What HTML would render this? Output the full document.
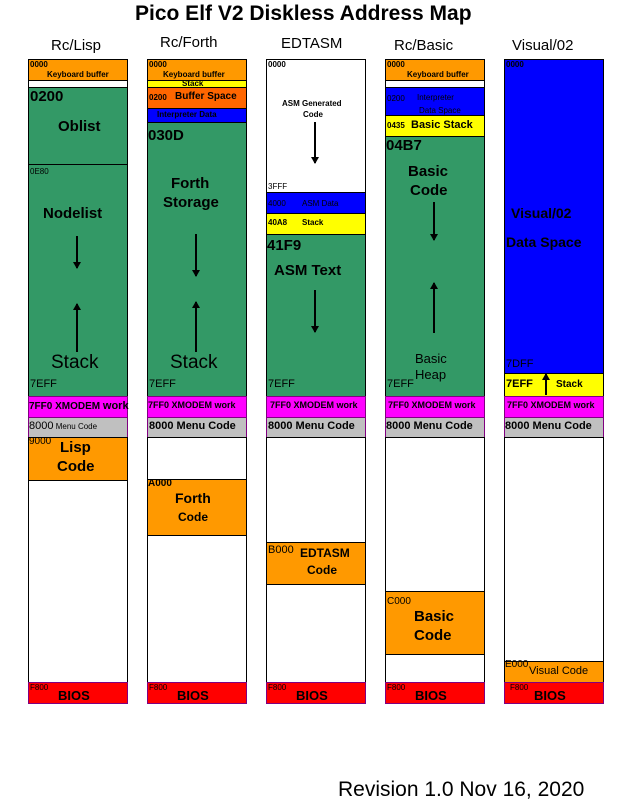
<!DOCTYPE html>
<html><head><meta charset="utf-8"><style>
body{margin:0;width:627px;height:807px;background:#fff;position:relative;overflow:hidden;font-family:"Liberation Sans",Arial,sans-serif}
.b{position:absolute;box-sizing:border-box;border:1px solid #000}
.p{border-color:#800080}
.t{position:absolute;white-space:nowrap;color:#000;line-height:1}
.s{font-size:8px}
.bo{font-weight:bold}
.ar{position:absolute;width:2px;background:#000}
.dn:after{content:"";position:absolute;left:-3px;bottom:-1px;border-left:4px solid transparent;border-right:4px solid transparent;border-top:7px solid #000}
.up:after{content:"";position:absolute;left:-3px;top:-1px;border-left:4px solid transparent;border-right:4px solid transparent;border-bottom:7px solid #000}
</style></head><body>
<div class="t bo" style="left:135px;top:3px;font-size:21px">Pico Elf V2 Diskless Address Map</div>
<div class="t" style="left:51px;top:38px;font-size:15px">Rc/Lisp</div>
<div class="t" style="left:160px;top:35px;font-size:15px">Rc/Forth</div>
<div class="t" style="left:281px;top:36px;font-size:15px">EDTASM</div>
<div class="t" style="left:394px;top:38px;font-size:15px">Rc/Basic</div>
<div class="t" style="left:512px;top:38px;font-size:15px">Visual/02</div>
<div class="t" style="left:338px;top:779px;font-size:21px">Revision 1.0 Nov 16, 2020</div>

<!-- Column 1 -->
<div class="b" style="left:28px;top:59px;width:100px;height:22px;background:#f90"></div>
<div class="b" style="left:28px;top:80px;width:100px;height:8px;background:#fff"></div>
<div class="b" style="left:28px;top:87px;width:100px;height:78px;background:#396"></div>
<div class="b" style="left:28px;top:164px;width:100px;height:233px;background:#396"></div>
<div class="b p" style="left:28px;top:396px;width:100px;height:22px;background:#f0f"></div>
<div class="b p" style="left:28px;top:417px;width:100px;height:21px;background:#c0c0c0"></div>
<div class="b" style="left:28px;top:437px;width:100px;height:44px;background:#f90"></div>
<div class="b" style="left:28px;top:480px;width:100px;height:203px;background:#fff"></div>
<div class="b p" style="left:28px;top:682px;width:100px;height:22px;background:#f00"></div>
<div class="t s bo" style="left:30px;top:61px">0000</div>
<div class="t s bo" style="left:47px;top:71px">Keyboard buffer</div>
<div class="t bo" style="left:30px;top:89px;font-size:15px">0200</div>
<div class="t bo" style="left:58px;top:119px;font-size:15px">Oblist</div>
<div class="t s" style="left:30px;top:168px">0E80</div>
<div class="t bo" style="left:43px;top:206px;font-size:15px">Nodelist</div>
<div class="ar dn" style="left:76px;top:236px;height:32px"></div>
<div class="ar up" style="left:76px;top:304px;height:48px"></div>
<div class="t" style="left:51px;top:353px;font-size:19px">Stack</div>
<div class="t" style="left:30px;top:379px;font-size:11px">7EFF</div>
<div class="t bo" style="left:29px;top:401px;font-size:10px">7FF0 XMODEM <span style="font-size:11px">work</span></div>
<div class="t" style="left:29px;top:421px;font-size:11px">8000<span style="font-size:8px"> Menu Code</span></div>
<div class="t" style="left:29px;top:437px;font-size:10px">9000</div>
<div class="t bo" style="left:60px;top:440px;font-size:15px">Lisp</div>
<div class="t bo" style="left:57px;top:459px;font-size:15px">Code</div>
<div class="t s" style="left:30px;top:684px">F800</div>
<div class="t bo" style="left:58px;top:689px;font-size:13px">BIOS</div>

<!-- Column 2 -->
<div class="b" style="left:147px;top:59px;width:100px;height:22px;background:#f90"></div>
<div class="b" style="left:147px;top:80px;width:100px;height:8px;background:#ff0"></div>
<div class="b" style="left:147px;top:87px;width:100px;height:22px;background:#f60"></div>
<div class="b" style="left:147px;top:108px;width:100px;height:15px;background:#00f"></div>
<div class="b" style="left:147px;top:122px;width:100px;height:275px;background:#396"></div>
<div class="b p" style="left:147px;top:396px;width:100px;height:22px;background:#f0f"></div>
<div class="b p" style="left:147px;top:417px;width:100px;height:21px;background:#c0c0c0"></div>
<div class="b" style="left:147px;top:437px;width:100px;height:43px;background:#fff"></div>
<div class="b" style="left:147px;top:479px;width:100px;height:57px;background:#f90"></div>
<div class="b" style="left:147px;top:535px;width:100px;height:148px;background:#fff"></div>
<div class="b p" style="left:147px;top:682px;width:100px;height:22px;background:#f00"></div>
<div class="t s bo" style="left:149px;top:61px">0000</div>
<div class="t s bo" style="left:163px;top:71px">Keyboard buffer</div>
<div class="t s bo" style="left:182px;top:80px">Stack</div>
<div class="t bo" style="left:149px;top:94px;font-size:8px">0200</div>
<div class="t bo" style="left:175px;top:92px;font-size:10px">Buffer Space</div>
<div class="t s bo" style="left:157px;top:111px">Interpreter Data</div>
<div class="t bo" style="left:148px;top:128px;font-size:15px">030D</div>
<div class="t bo" style="left:171px;top:176px;font-size:15px">Forth</div>
<div class="t bo" style="left:163px;top:195px;font-size:15px">Storage</div>
<div class="ar dn" style="left:195px;top:234px;height:42px"></div>
<div class="ar up" style="left:195px;top:302px;height:50px"></div>
<div class="t" style="left:170px;top:353px;font-size:19px">Stack</div>
<div class="t" style="left:149px;top:379px;font-size:11px">7EFF</div>
<div class="t bo" style="left:148px;top:401px;font-size:9px">7FF0 XMODEM work</div>
<div class="t bo" style="left:149px;top:421px;font-size:11px">8000 Menu Code</div>
<div class="t bo" style="left:148px;top:479px;font-size:10px">A000</div>
<div class="t bo" style="left:175px;top:491px;font-size:14px">Forth</div>
<div class="t bo" style="left:178px;top:511px;font-size:12px">Code</div>
<div class="t s" style="left:149px;top:684px">F800</div>
<div class="t bo" style="left:177px;top:689px;font-size:13px">BIOS</div>

<!-- Column 3 -->
<div class="b" style="left:266px;top:59px;width:100px;height:134px;background:#fff"></div>
<div class="b" style="left:266px;top:192px;width:100px;height:22px;background:#00f"></div>
<div class="b" style="left:266px;top:213px;width:100px;height:22px;background:#ff0"></div>
<div class="b" style="left:266px;top:234px;width:100px;height:163px;background:#396"></div>
<div class="b p" style="left:266px;top:396px;width:100px;height:22px;background:#f0f"></div>
<div class="b p" style="left:266px;top:417px;width:100px;height:21px;background:#c0c0c0"></div>
<div class="b" style="left:266px;top:437px;width:100px;height:106px;background:#fff"></div>
<div class="b" style="left:266px;top:542px;width:100px;height:43px;background:#f90"></div>
<div class="b" style="left:266px;top:584px;width:100px;height:99px;background:#fff"></div>
<div class="b p" style="left:266px;top:682px;width:100px;height:22px;background:#f00"></div>
<div class="t s bo" style="left:268px;top:61px">0000</div>
<div class="t s bo" style="left:282px;top:100px">ASM Generated</div>
<div class="t s bo" style="left:303px;top:111px">Code</div>
<div class="ar dn" style="left:314px;top:122px;height:41px"></div>
<div class="t s" style="left:268px;top:183px">3FFF</div>
<div class="t s" style="left:268px;top:200px">4000</div>
<div class="t s" style="left:302px;top:200px">ASM Data</div>
<div class="t s bo" style="left:268px;top:219px">40A8</div>
<div class="t s bo" style="left:302px;top:219px">Stack</div>
<div class="t bo" style="left:267px;top:238px;font-size:15px">41F9</div>
<div class="t bo" style="left:274px;top:263px;font-size:15px">ASM Text</div>
<div class="ar dn" style="left:314px;top:290px;height:42px"></div>
<div class="t" style="left:268px;top:379px;font-size:11px">7EFF</div>
<div class="t bo" style="left:270px;top:401px;font-size:9px">7FF0 XMODEM work</div>
<div class="t bo" style="left:268px;top:421px;font-size:11px">8000 Menu Code</div>
<div class="t" style="left:268px;top:545px;font-size:11px">B000</div>
<div class="t bo" style="left:300px;top:547px;font-size:12px">EDTASM</div>
<div class="t bo" style="left:307px;top:564px;font-size:12px">Code</div>
<div class="t s" style="left:268px;top:684px">F800</div>
<div class="t bo" style="left:296px;top:689px;font-size:13px">BIOS</div>

<!-- Column 4 -->
<div class="b" style="left:385px;top:59px;width:100px;height:22px;background:#f90"></div>
<div class="b" style="left:385px;top:80px;width:100px;height:8px;background:#fff"></div>
<div class="b" style="left:385px;top:87px;width:100px;height:29px;background:#00f"></div>
<div class="b" style="left:385px;top:115px;width:100px;height:22px;background:#ff0"></div>
<div class="b" style="left:385px;top:136px;width:100px;height:261px;background:#396"></div>
<div class="b p" style="left:385px;top:396px;width:100px;height:22px;background:#f0f"></div>
<div class="b p" style="left:385px;top:417px;width:100px;height:21px;background:#c0c0c0"></div>
<div class="b" style="left:385px;top:437px;width:100px;height:155px;background:#fff"></div>
<div class="b" style="left:385px;top:591px;width:100px;height:64px;background:#f90"></div>
<div class="b" style="left:385px;top:654px;width:100px;height:29px;background:#fff"></div>
<div class="b p" style="left:385px;top:682px;width:100px;height:22px;background:#f00"></div>
<div class="t s bo" style="left:387px;top:61px">0000</div>
<div class="t s bo" style="left:407px;top:71px">Keyboard buffer</div>
<div class="t s" style="left:387px;top:95px">0200</div>
<div class="t s" style="left:417px;top:94px">Interpreter</div>
<div class="t s" style="left:419px;top:107px">Data Space</div>
<div class="t s bo" style="left:387px;top:122px">0435</div>
<div class="t bo" style="left:411px;top:120px;font-size:11px">Basic Stack</div>
<div class="t bo" style="left:386px;top:138px;font-size:15px">04B7</div>
<div class="t bo" style="left:408px;top:164px;font-size:15px">Basic</div>
<div class="t bo" style="left:410px;top:183px;font-size:15px">Code</div>
<div class="ar dn" style="left:433px;top:202px;height:38px"></div>
<div class="ar up" style="left:433px;top:283px;height:50px"></div>
<div class="t" style="left:415px;top:352px;font-size:13px">Basic</div>
<div class="t" style="left:415px;top:368px;font-size:13px">Heap</div>
<div class="t" style="left:387px;top:379px;font-size:11px">7EFF</div>
<div class="t bo" style="left:388px;top:401px;font-size:9px">7FF0 XMODEM work</div>
<div class="t bo" style="left:386px;top:421px;font-size:11px">8000 Menu Code</div>
<div class="t" style="left:387px;top:597px;font-size:10px">C000</div>
<div class="t bo" style="left:414px;top:609px;font-size:15px">Basic</div>
<div class="t bo" style="left:414px;top:628px;font-size:15px">Code</div>
<div class="t s" style="left:387px;top:684px">F800</div>
<div class="t bo" style="left:415px;top:689px;font-size:13px">BIOS</div>

<!-- Column 5 -->
<div class="b" style="left:504px;top:59px;width:100px;height:315px;background:#00f"></div>
<div class="b" style="left:504px;top:373px;width:100px;height:24px;background:#ff0"></div>
<div class="b p" style="left:504px;top:396px;width:100px;height:22px;background:#f0f"></div>
<div class="b p" style="left:504px;top:417px;width:100px;height:21px;background:#c0c0c0"></div>
<div class="b" style="left:504px;top:437px;width:100px;height:225px;background:#fff"></div>
<div class="b" style="left:504px;top:661px;width:100px;height:22px;background:#f90"></div>
<div class="b p" style="left:504px;top:682px;width:100px;height:22px;background:#f00"></div>
<div class="t s bo" style="left:506px;top:61px">0000</div>
<div class="t bo" style="left:511px;top:206px;font-size:14px">Visual/02</div>
<div class="t bo" style="left:506px;top:235px;font-size:14px">Data Space</div>
<div class="t" style="left:506px;top:359px;font-size:11px">7DFF</div>
<div class="t bo" style="left:506px;top:379px;font-size:11px">7EFF</div>
<div class="ar up" style="left:545px;top:374px;height:21px"></div>
<div class="t bo" style="left:556px;top:380px;font-size:10px">Stack</div>
<div class="t bo" style="left:507px;top:401px;font-size:9px">7FF0 XMODEM work</div>
<div class="t bo" style="left:505px;top:421px;font-size:11px">8000 Menu Code</div>
<div class="t" style="left:505px;top:660px;font-size:10px">E000</div>
<div class="t" style="left:529px;top:666px;font-size:11px">Visual Code</div>
<div class="t s" style="left:510px;top:684px">F800</div>
<div class="t bo" style="left:534px;top:689px;font-size:13px">BIOS</div>
</body></html>
